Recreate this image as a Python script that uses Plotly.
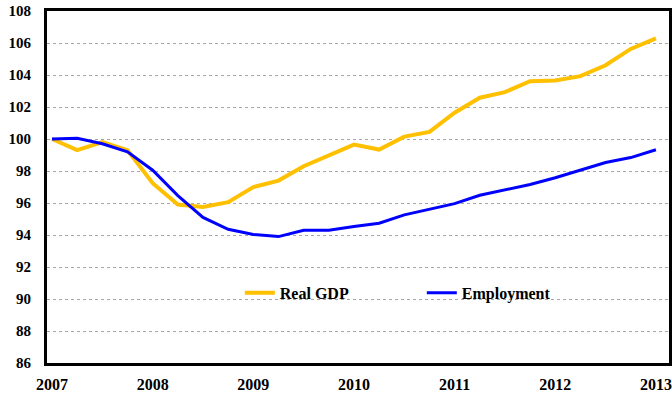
import plotly.graph_objects as go

# Quarterly index levels, 2007 Q1 = 100
quarters = [2007 + q / 4 for q in range(25)]
real_gdp = [100.0, 99.3, 99.8, 99.3, 97.24, 95.9, 95.75, 96.05, 97.0, 97.4,
            98.3, 98.95, 99.65, 99.34, 100.15, 100.44, 101.64, 102.58, 102.93,
            103.61, 103.66, 103.93, 104.61, 105.63, 106.29]
employment = [100.0, 100.05, 99.7, 99.2, 98.05, 96.46, 95.1, 94.36, 94.03, 93.9,
              94.3, 94.3, 94.53, 94.74, 95.26, 95.62, 95.96, 96.48, 96.84,
              97.16, 97.58, 98.06, 98.53, 98.84, 99.33]
year_ticks = [2007, 2008, 2009, 2010, 2011, 2012, 2013]
y_ticks = list(range(86, 109, 2))

SERIF = "Liberation Serif, Times New Roman, serif"
yfont = dict(family=SERIF, size=15, color="black")
xfont = dict(family=SERIF, size=16, color="black")

fig = go.Figure()
fig.add_trace(go.Scatter(x=quarters, y=real_gdp, mode="lines", name="<b>Real GDP</b>",
                         line=dict(color="#FFC000", width=4)))
fig.add_trace(go.Scatter(x=quarters, y=employment, mode="lines", name="<b>Employment</b>",
                         line=dict(color="#0000FF", width=3)))

fig.update_layout(
    width=672, height=393,
    margin=dict(l=47, r=3, t=11, b=30, autoexpand=False),
    paper_bgcolor="white", plot_bgcolor="white",
    font=yfont,
    legend=dict(orientation="h", x=0.31, y=0.199, xanchor="left", yanchor="middle",
                bgcolor="rgba(0,0,0,0)", font=dict(family=SERIF, size=16, color="black"),
                itemwidth=30, entrywidth=137, entrywidthmode="pixels"),
    xaxis=dict(range=[2006.95, 2013.13], tickvals=year_ticks,
               ticktext=[f"<b>{y}</b>" for y in year_ticks],
               showgrid=False, showline=True, linecolor="black", linewidth=3,
               mirror=True, ticks="", zeroline=False, tickfont=xfont,
               ticklabelstandoff=5),
    yaxis=dict(range=[86, 108], tickvals=y_ticks,
               ticktext=[f"<b>{v}</b>" for v in y_ticks],
               showgrid=True, gridcolor="#A6A6A6", griddash="dot", gridwidth=1,
               showline=True, linecolor="black", linewidth=3, mirror=True,
               ticks="", zeroline=False, tickfont=yfont, ticklabelstandoff=10),
)

fig.write_html("out.html")
